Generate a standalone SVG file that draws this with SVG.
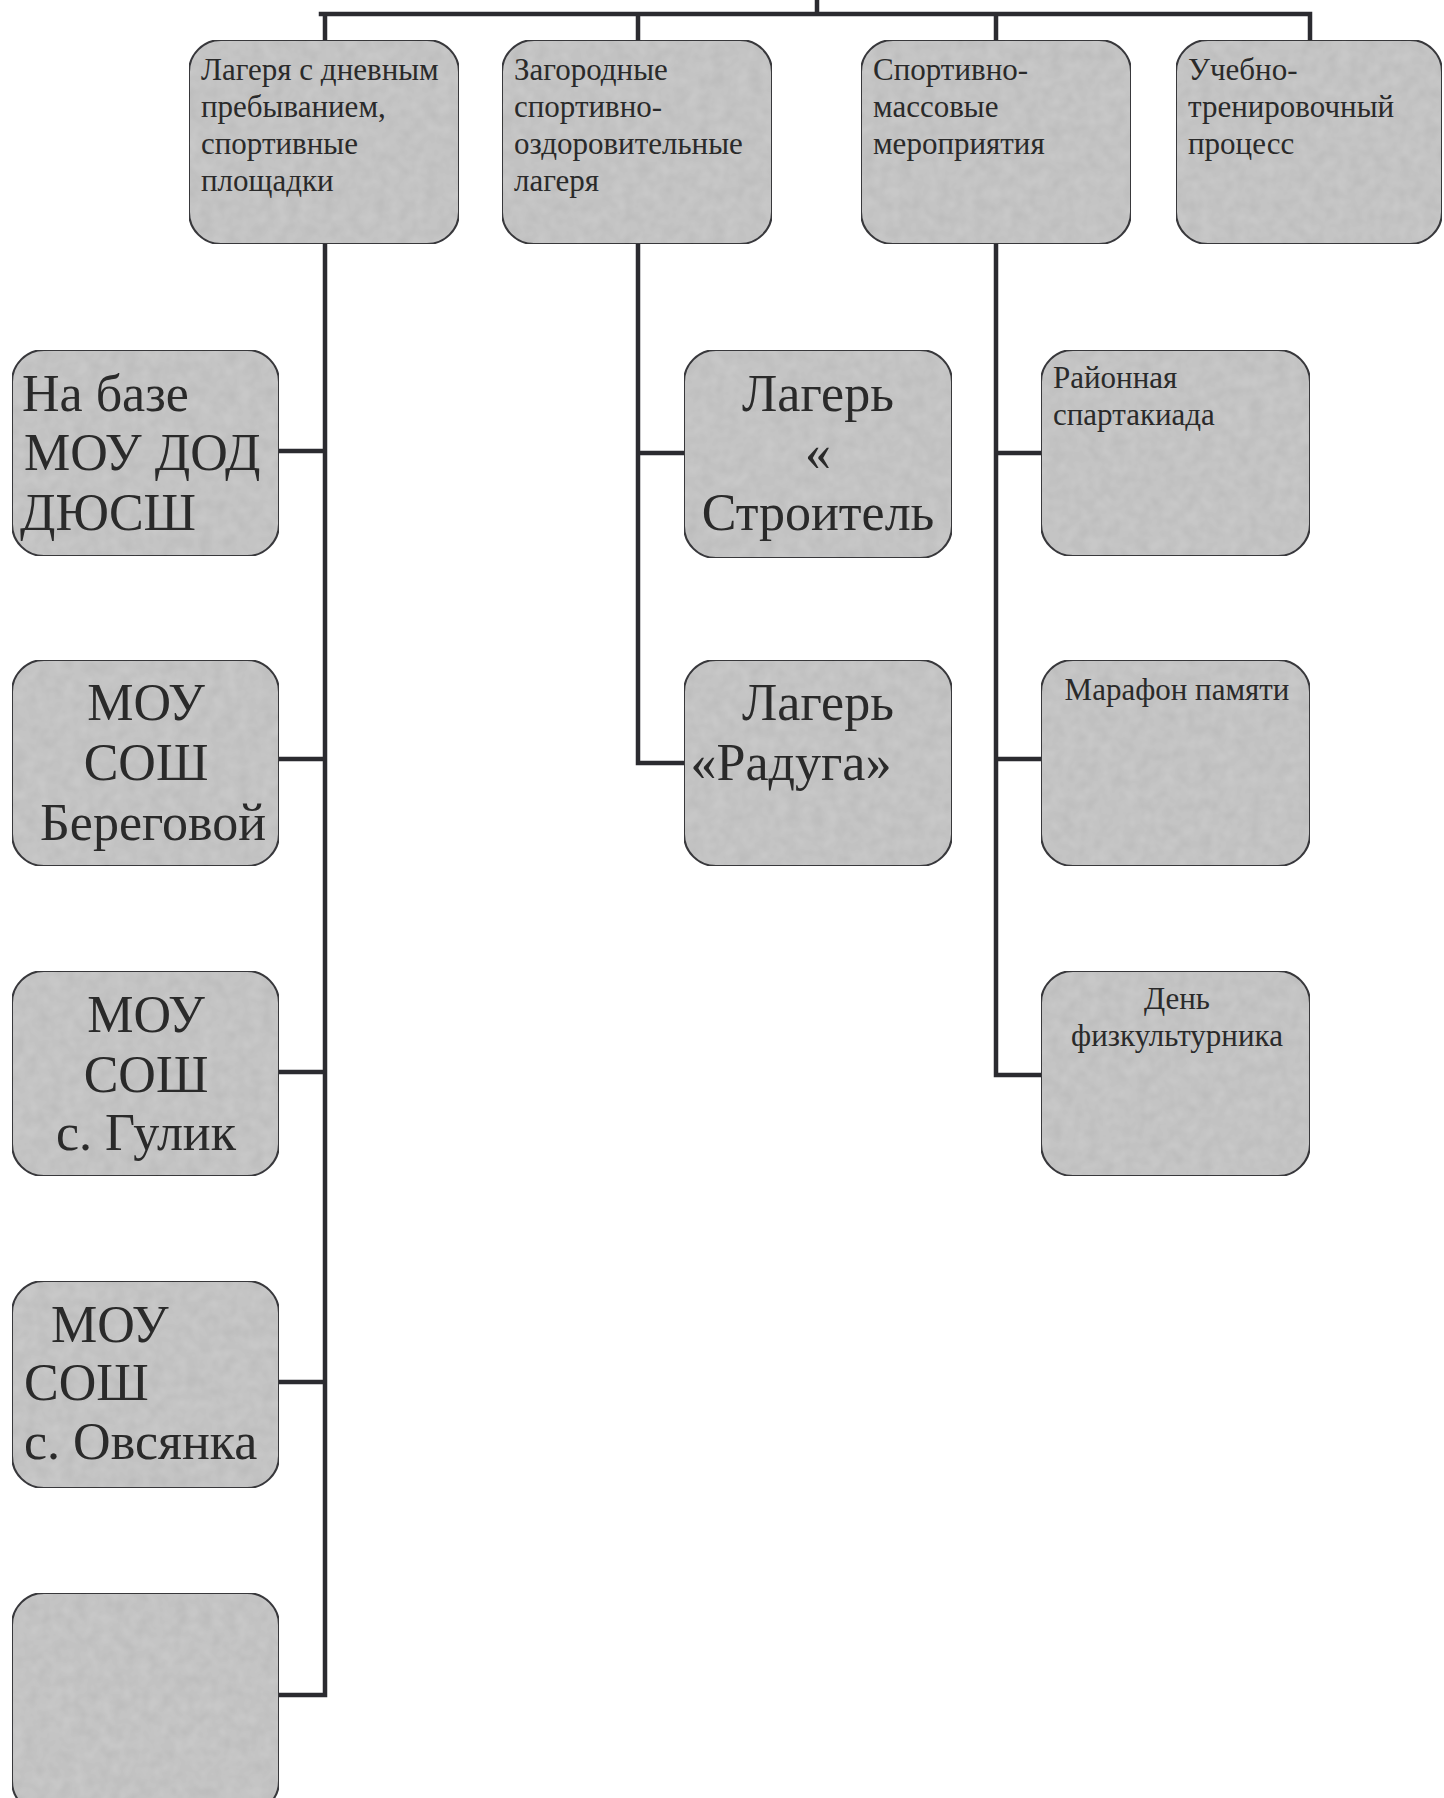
<svg xmlns="http://www.w3.org/2000/svg" width="1444" height="1798" viewBox="0 0 1444 1798">
<defs>
<filter id="tex" x="0" y="0" width="1" height="1">
<feTurbulence type="fractalNoise" baseFrequency="0.08" numOctaves="2" seed="4" result="n"/>
<feColorMatrix in="n" type="matrix" values="0 0 0 0 0  0 0 0 0 0  0 0 0 0 0  0 0 0 0.18 -0.04" result="d"/>
<feComposite in="d" in2="SourceGraphic" operator="in" result="dm"/>
<feMerge><feMergeNode in="SourceGraphic"/><feMergeNode in="dm"/></feMerge>
</filter>
<style>
.box{fill:#c8c8c8;stroke:#3a3a3e;stroke-width:2;filter:url(#tex)}
.ln{fill:none;stroke:#2b2b30;stroke-width:4.5;stroke-linecap:square;stroke-linejoin:miter}
.s{font-family:"Liberation Serif","Times New Roman",serif;font-size:31px;fill:#2a2a2a}
.b{font-family:"Liberation Serif","Times New Roman",serif;font-size:52px;fill:#2a2a2a}
.c{text-anchor:middle}
</style>
</defs>
<rect width="1444" height="1798" fill="#ffffff"/>
<g id="connectors">
<path class="ln" d="M817 0V14M321 14H1310M325 14V40M638 14V40M996 14V40M1310 14V40"/>
<path class="ln" d="M325 244V1695M279 451H325M279 759H325M279 1072H325M279 1382H325M279 1695H325"/>
<path class="ln" d="M638 244V763M638 453H684M638 763H684"/>
<path class="ln" d="M996 244V1075M996 453H1041M996 759H1041M996 1075H1041"/>
</g>
<g id="n1"><rect class="box" x="189" y="40" width="270" height="204" rx="32"/>
<text class="s"><tspan x="201" y="80">Лагеря с дневным</tspan><tspan x="201" y="117">пребыванием,</tspan><tspan x="201" y="154">спортивные</tspan><tspan x="201" y="191">площадки</tspan></text></g>
<g id="n2"><rect class="box" x="502" y="40" width="270" height="204" rx="32"/>
<text class="s"><tspan x="514" y="80">Загородные</tspan><tspan x="514" y="117">спортивно-</tspan><tspan x="514" y="154">оздоровительные</tspan><tspan x="514" y="191">лагеря</tspan></text></g>
<g id="n3"><rect class="box" x="861" y="40" width="270" height="204" rx="32"/>
<text class="s"><tspan x="873" y="80">Спортивно-</tspan><tspan x="873" y="117">массовые</tspan><tspan x="873" y="154">мероприятия</tspan></text></g>
<g id="n4"><rect class="box" x="1176" y="40" width="266" height="204" rx="32"/>
<text class="s"><tspan x="1188" y="80">Учебно-</tspan><tspan x="1188" y="117">тренировочный</tspan><tspan x="1188" y="154">процесс</tspan></text></g>
<g id="a1"><rect class="box" x="12" y="350" width="267" height="206" rx="32"/>
<text class="b"><tspan x="22" y="411">На базе</tspan><tspan x="24" y="470">МОУ ДОД</tspan><tspan x="20" y="530">ДЮСШ</tspan></text></g>
<g id="a2"><rect class="box" x="12" y="660" width="267" height="206" rx="32"/>
<text class="b c"><tspan x="146" y="720">МОУ</tspan><tspan x="146" y="780">СОШ</tspan><tspan x="153" y="840">Береговой</tspan></text></g>
<g id="a3"><rect class="box" x="12" y="971" width="267" height="205" rx="32"/>
<text class="b c"><tspan x="146" y="1032">МОУ</tspan><tspan x="146" y="1092">СОШ</tspan><tspan x="146" y="1150">с. Гулик</tspan></text></g>
<g id="a4"><rect class="box" x="12" y="1281" width="267" height="207" rx="32"/>
<text class="b"><tspan x="51" y="1342">МОУ</tspan><tspan x="24" y="1400">СОШ</tspan><tspan x="24" y="1459">с. Овсянка</tspan></text></g>
<g id="a5"><rect class="box" x="12" y="1593" width="267" height="220" rx="32"/></g>
<g id="m1"><rect class="box" x="684" y="350" width="268" height="208" rx="32"/>
<text class="b c"><tspan x="818" y="411">Лагерь</tspan><tspan x="818" y="470">«</tspan><tspan x="818" y="530">Строитель</tspan></text></g>
<g id="m2"><rect class="box" x="684" y="660" width="268" height="206" rx="32"/>
<text class="b c"><tspan x="818" y="720">Лагерь</tspan><tspan x="791" y="780">«Радуга»</tspan></text></g>
<g id="r1"><rect class="box" x="1041" y="350" width="269" height="206" rx="32"/>
<text class="s"><tspan x="1053" y="388">Районная</tspan><tspan x="1053" y="425">спартакиада</tspan></text></g>
<g id="r2"><rect class="box" x="1041" y="660" width="269" height="206" rx="32"/>
<text class="s c"><tspan x="1177" y="700">Марафон памяти</tspan></text></g>
<g id="r3"><rect class="box" x="1041" y="971" width="269" height="205" rx="32"/>
<text class="s c"><tspan x="1177" y="1009">День</tspan><tspan x="1177" y="1046">физкультурника</tspan></text></g>
</svg>
